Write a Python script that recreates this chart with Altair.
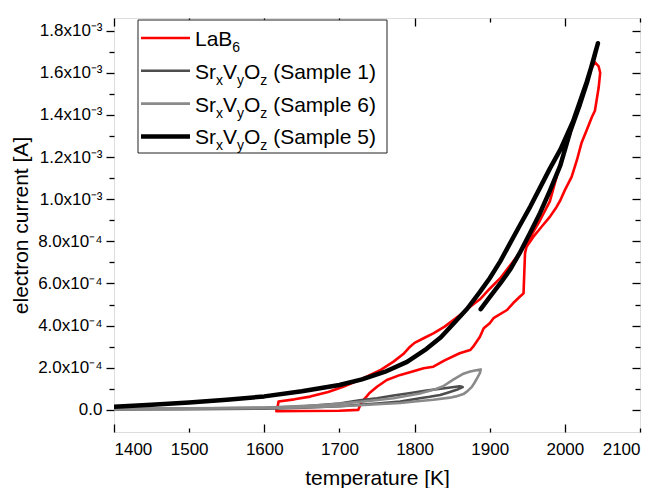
import altair as alt
import pandas as pd

# ---------------- data (temperature in K, current in mA -> converted to A) ----------------
lab6_T = [1616, 1618, 1619, 1640, 1661, 1685, 1705, 1720, 1736, 1755, 1772, 1785, 1794, 1800,
          1812, 1825, 1840, 1852, 1864, 1874, 1887, 1900, 1914, 1927, 1940, 1954, 1967, 1980,
          1994, 2007, 2020, 2034, 2040, 2045, 2047, 2045, 2040, 2036, 2029, 2022, 2016, 2009,
          2000, 1994, 1989, 1980, 1969, 1958, 1949, 1947, 1946, 1945, 1940, 1931, 1923, 1905,
          1900, 1892, 1887, 1878, 1874, 1860, 1840, 1825, 1812, 1795, 1781, 1763, 1750, 1740,
          1736, 1730, 1727, 1725, 1700, 1650, 1616]
lab6_I = [0.000, 0.020, 0.040, 0.050, 0.063, 0.085, 0.110, 0.132, 0.158, 0.190, 0.229, 0.265,
          0.300, 0.318, 0.340, 0.363, 0.395, 0.427, 0.460, 0.490, 0.525, 0.575, 0.625, 0.685,
          0.745, 0.820, 0.900, 0.990, 1.170, 1.310, 1.460, 1.610, 1.650, 1.630, 1.600, 1.530,
          1.420, 1.390, 1.327, 1.265, 1.185, 1.106, 1.043, 0.995, 0.963, 0.916, 0.869, 0.821,
          0.774, 0.744, 0.650, 0.553, 0.537, 0.506, 0.474, 0.435, 0.411, 0.387, 0.347, 0.300,
          0.284, 0.269, 0.235, 0.205, 0.198, 0.180, 0.166, 0.142, 0.110, 0.080, 0.063, 0.039,
          0.016, 0.000, -0.004, -0.005, -0.006]

s1_T = [1400, 1500, 1600, 1650, 1700, 1727, 1750, 1772, 1795, 1816, 1840, 1860, 1864, 1856,
        1845, 1834, 1820, 1807, 1781, 1750, 1700, 1650, 1600, 1500, 1400]
s1_I = [0.004, 0.006, 0.010, 0.016, 0.030, 0.045, 0.055, 0.068, 0.080, 0.092, 0.103, 0.112,
        0.108, 0.095, 0.083, 0.071, 0.062, 0.055, 0.040, 0.030, 0.017, 0.010, 0.006, 0.003, 0.002]

s6_T = [1400, 1500, 1600, 1683, 1727, 1772, 1807, 1825, 1838, 1852, 1864, 1874, 1882, 1888,
        1887, 1884, 1880, 1876, 1870, 1865, 1855, 1847, 1825, 1800, 1781, 1750, 1727, 1700,
        1650, 1600, 1500, 1400]
s6_I = [0.005, 0.007, 0.010, 0.024, 0.038, 0.055, 0.078, 0.095, 0.112, 0.145, 0.170, 0.182,
        0.188, 0.192, 0.175, 0.155, 0.130, 0.108, 0.088, 0.075, 0.064, 0.058, 0.048, 0.040,
        0.033, 0.027, 0.022, 0.017, 0.012, 0.008, 0.005, 0.003]

s5_T = [1400, 1450, 1500, 1550, 1600, 1650, 1700, 1730, 1760, 1790, 1816, 1835, 1852, 1870,
        1887, 1900, 1914, 1927, 1940, 1954, 1967, 1980, 1994, 2011, 2029, 2038, 2044, 2040,
        2030, 2020, 2007, 1994, 1980, 1967, 1953, 1940, 1927, 1914, 1900, 1888]
s5_I = [0.015, 0.024, 0.035, 0.048, 0.064, 0.088, 0.118, 0.145, 0.180, 0.228, 0.290, 0.345,
        0.410, 0.480, 0.560, 0.625, 0.705, 0.790, 0.875, 0.965, 1.055, 1.145, 1.235, 1.370,
        1.555, 1.660, 1.740, 1.690, 1.560, 1.450, 1.320, 1.160, 1.040, 0.935, 0.835, 0.745,
        0.665, 0.600, 0.535, 0.478]

x_major = [1400, 1600, 1800, 2000]
x_minor = [1500, 1700, 1900, 2100]
x_labels = [1400, 1500, 1600, 1700, 1800, 1900, 2000, 2100]
y_major = [0.0, 2e-4, 4e-4, 6e-4, 8e-4, 1.0e-3, 1.2e-3, 1.4e-3, 1.6e-3, 1.8e-3]
y_minor = [1e-4, 3e-4, 5e-4, 7e-4, 9e-4, 1.1e-3, 1.3e-3, 1.5e-3, 1.7e-3]


def frame(name, T, I):
    return pd.DataFrame({"T": T, "I": [v * 1e-3 for v in I], "series": name,
                         "i": list(range(len(T)))})


df_lab6 = frame("LaB6", lab6_T, lab6_I)
df_s1 = frame("S1", s1_T, s1_I)
df_s6 = frame("S6", s6_T, s6_I)
df_s5 = frame("S5", s5_T, s5_I)

W, H = 526, 414
FONT = "Liberation Sans"
xs = alt.Scale(domain=[1400, 2100], nice=False, zero=False)
ys = alt.Scale(domain=[-1.05e-4, 1.86e-3], nice=False, zero=False)

label_expr = ("datum.value == 0 ? '0.0' : (abs(datum.value) < 0.00099 ? "
              "format(datum.value*1e4, '.1f') + 'x10\u207b\u2074' : "
              "format(datum.value*1e3, '.1f') + 'x10\u207b\u00b3')")

x_main = alt.Axis(values=x_labels, format="d", ticks=False, domain=False, grid=False,
                  labelFont=FONT, labelFontSize=17, labelColor="black", labelPadding=9,
                  title="temperature [K]", titleFont=FONT, titleFontSize=21,
                  titleFontWeight="normal", titleColor="black", titlePadding=10)
y_main = alt.Axis(values=y_major, ticks=True, tickSize=8, tickWidth=1.3, tickColor="black",
                  domain=False, grid=False, labelFont=FONT, labelFontSize=17,
                  labelColor="black", labelPadding=4, labelExpr=label_expr,
                  title="electron current [A]", titleFont=FONT, titleFontSize=21,
                  titleFontWeight="normal", titleColor="black", titlePadding=6)


def series_layer(df, color, width, xa=None, ya=None):
    return alt.Chart(df).mark_line(color=color, strokeWidth=width, clip=True,
                                   strokeJoin="round", strokeCap="round").encode(
        x=alt.X("T:Q", scale=xs, axis=xa),
        y=alt.Y("I:Q", scale=ys, axis=ya),
        order="i:Q",
    )


def tick_axis(orient, offset, values, size):
    return alt.Axis(orient=orient, offset=offset, values=values, tickSize=size, tickWidth=1.3,
                    tickColor="black", labels=False, domain=False, grid=False, title=None)


def axis_layer(xa=None, ya=None):
    return alt.Chart(df_lab6).mark_point(opacity=0).encode(
        x=alt.X("T:Q", scale=xs, axis=xa),
        y=alt.Y("I:Q", scale=ys, axis=ya),
    )


layers = [
    series_layer(df_lab6, "#ff0000", 2.6, x_main, y_main),
    series_layer(df_s1, "#4d4d4d", 2.6),
    series_layer(df_s6, "#8a8a8a", 2.6),
    series_layer(df_s5, "#000000", 4.5),
    axis_layer(xa=tick_axis("top", -H, x_major, 8)),
    axis_layer(xa=tick_axis("top", -H, x_minor, 4)),
    axis_layer(xa=tick_axis("bottom", -H, x_major, 8)),
    axis_layer(xa=tick_axis("bottom", -H, x_minor, 4)),
    axis_layer(ya=tick_axis("left", 0, y_minor, 5)),
    axis_layer(ya=tick_axis("left", -W, y_major, 8)),
    axis_layer(ya=tick_axis("left", -W, y_minor, 5)),
]

# ---------------- legend (built by hand to allow subscripts) ----------------
one = pd.DataFrame({"a": [0]})
CW = {'S': 667, 'r': 333, 'V': 667, 'O': 778, ' ': 278, '(': 333, ')': 333, 'a': 556,
      'm': 833, 'p': 556, 'l': 222, 'e': 556, '1': 556, '5': 556, '6': 556, 'L': 556,
      'B': 667, 'x': 500, 'y': 500, 'z': 500}


def tw(s, size):
    return sum(CW.get(c, 556) for c in s) * size / 1000.0


legend_pieces = [
    [("LaB", False), ("6", True)],
    [("Sr", False), ("x", True), ("V", False), ("y", True), ("O", False), ("z", True),
     (" (Sample 1)", False)],
    [("Sr", False), ("x", True), ("V", False), ("y", True), ("O", False), ("z", True),
     (" (Sample 6)", False)],
    [("Sr", False), ("x", True), ("V", False), ("y", True), ("O", False), ("z", True),
     (" (Sample 5)", False)],
]
legend_colors = ["#ff0000", "#4d4d4d", "#8a8a8a", "#000000"]
legend_widths = [2.6, 2.6, 2.6, 4.5]

LX0, LX1, LY0, LY1 = 24, 273, 2, 135
layers.append(alt.Chart(one).mark_rect(fill="white", stroke="#222222", strokeWidth=1).encode(
    x=alt.value(LX0), x2=alt.value(LX1), y=alt.value(LY0), y2=alt.value(LY1)))

MAIN, SUB = 21, 14
for k, pieces in enumerate(legend_pieces):
    yc = 20 + k * 32.8
    layers.append(alt.Chart(one).mark_rule(color=legend_colors[k],
                                           strokeWidth=legend_widths[k]).encode(
        x=alt.value(27), x2=alt.value(76), y=alt.value(yc), y2=alt.value(yc)))
    xpos = 81
    base = yc + 8
    for txt, sub in pieces:
        size = SUB if sub else MAIN
        lead = len(txt) - len(txt.lstrip(" "))
        xpos += tw(" " * lead, size)
        body = txt.lstrip(" ")
        layers.append(alt.Chart(one).mark_text(
            text=body, font=FONT, fontSize=size, color="black", align="left",
            baseline="alphabetic").encode(
            x=alt.value(xpos), y=alt.value(base + (6 if sub else 0))))
        xpos += tw(body, size)

chart = alt.layer(*layers).resolve_axis(x="independent", y="independent").properties(
    width=W, height=H,
    autosize=alt.AutoSizeParams(type="none"),
    padding={"left": 106, "top": 10, "right": 12, "bottom": 56},
).configure_view(stroke="black", strokeWidth=1.5).configure(background="white")

chart.save("out.html", embed_options={"renderer": "svg", "actions": False})
